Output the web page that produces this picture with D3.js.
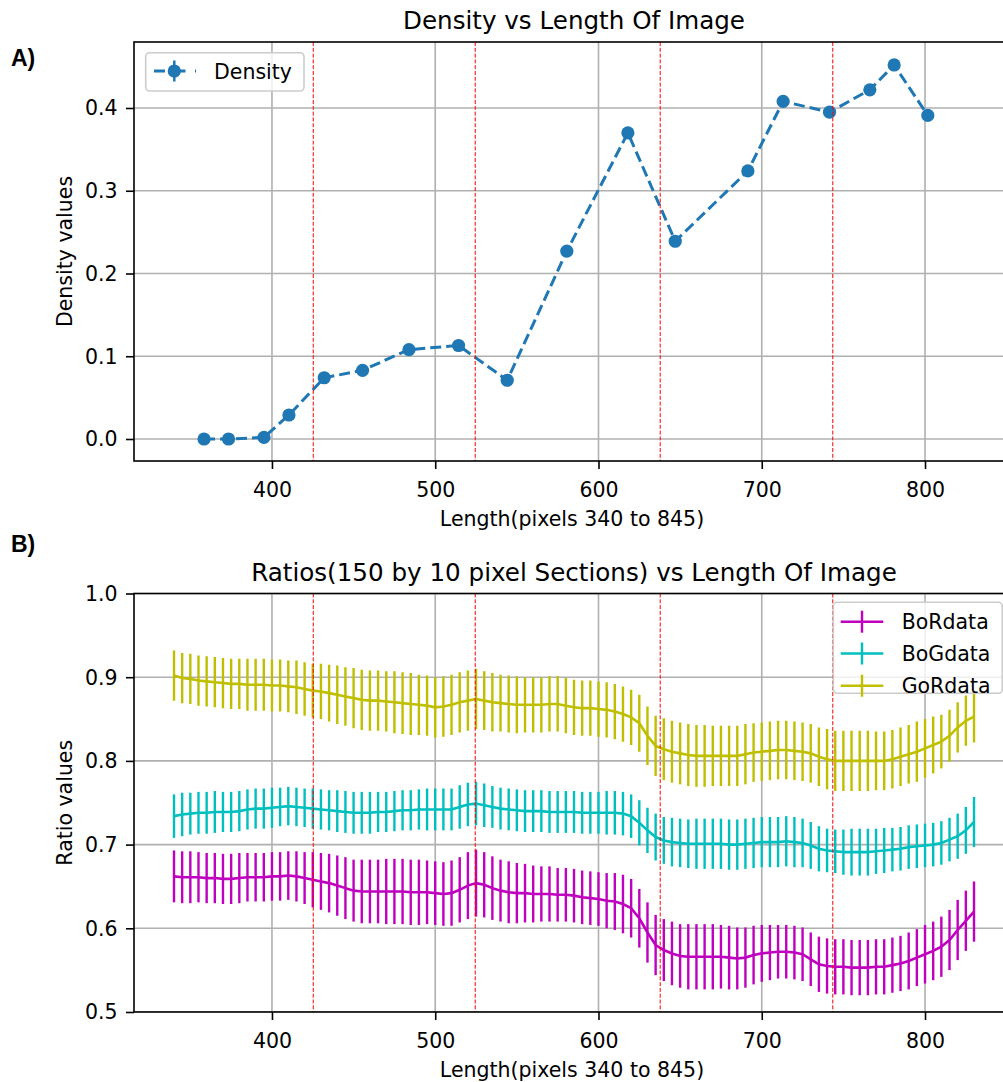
<!DOCTYPE html>
<html>
<head>
<meta charset="utf-8">
<script src="https://cdn.jsdelivr.net/npm/d3@7"></script>
<style>
  html, body { margin: 0; padding: 0; background: #fff; }
  svg text { font-family: "DejaVu Sans", sans-serif; fill: #000; }
</style>
</head>
<body>
<svg id="chart" width="1003" height="1082"></svg>
<script>
// ---------------- DATA ----------------
const densityX = [358.4, 373.4, 395.1, 410.4, 432.0, 455.5, 483.9, 514.3, 544.1, 580.6, 618.0, 647.0, 691.5, 713.1, 741.5, 766.2, 781.1, 801.7];
const densityY = [0.000, 0.000, 0.002, 0.029, 0.074, 0.083, 0.108, 0.113, 0.071, 0.227, 0.370, 0.239, 0.324, 0.408, 0.395, 0.422, 0.452, 0.391];

const sectionLines = [425.3, 524.5, 637.8, 743.5];

const ratioX = [340,345,350,355,360,365,370,375,380,385,390,395,400,405,410,415,420,
  425,430,435,440,445,450,455,460,465,470,475,480,485,490,495,500,505,510,515,520,
  525,530,535,540,545,550,555,560,565,570,575,580,585,590,595,600,605,610,615,620,
  625,630,635,640,645,650,655,660,665,670,675,680,685,690,695,700,705,710,715,720,
  725,730,735,740,745,750,755,760,765,770,775,780,785,790,795,800,805,810,815,820,825,830];

const borData = [.662,.661,.661,.661,.660,.660,.659,.659,.660,.661,.661,.661,.662,.662,.663,.662,.660,
  .658,.656,.654,.651,.648,.645,.644,.644,.644,.644,.644,.644,.643,.643,.643,.642,.641,.642,.646,.651,
  .654,.652,.648,.645,.643,.642,.642,.641,.641,.641,.640,.640,.639,.637,.636,.635,.633,.632,.629,.624,
  .612,.595,.580,.574,.570,.567,.566,.566,.566,.566,.566,.565,.564,.565,.568,.570,.571,.572,.572,.571,
  .569,.563,.557,.555,.554,.554,.553,.553,.553,.554,.554,.556,.558,.561,.565,.569,.573,.578,.586,.598,.609,.620];
const borErr = [.031,.031,.031,.030,.030,.030,.030,.030,.030,.029,.029,.029,.029,.029,.029,.030,.031,
  .033,.034,.035,.036,.037,.037,.038,.038,.038,.039,.039,.039,.039,.039,.038,.038,.038,.039,.039,.040,
  .040,.039,.038,.037,.037,.036,.035,.034,.033,.033,.032,.032,.032,.032,.032,.032,.033,.034,.035,.035,
  .035,.036,.036,.037,.038,.038,.039,.039,.039,.039,.038,.038,.037,.036,.035,.034,.033,.032,.032,.032,
  .032,.032,.033,.033,.033,.033,.033,.033,.033,.033,.033,.033,.033,.034,.034,.035,.035,.036,.036,.036,.036,.036];

const bogData = [.734,.736,.737,.738,.738,.739,.739,.739,.740,.742,.743,.743,.744,.745,.746,.745,.744,
  .743,.742,.741,.740,.739,.738,.738,.738,.739,.739,.740,.741,.741,.742,.742,.742,.742,.742,.745,.748,
  .749,.747,.745,.743,.742,.741,.740,.740,.740,.739,.739,.739,.739,.738,.738,.738,.738,.738,.737,.734,
  .726,.717,.709,.705,.703,.702,.701,.701,.701,.701,.701,.700,.700,.701,.702,.703,.703,.703,.704,.703,
  .702,.699,.695,.693,.692,.691,.691,.691,.691,.692,.693,.694,.695,.697,.698,.699,.700,.702,.706,.710,.717,.727];
const bogErr = [.026,.026,.025,.025,.025,.025,.024,.024,.024,.024,.024,.024,.024,.023,.023,.023,.023,
  .024,.024,.024,.025,.025,.025,.025,.025,.024,.024,.024,.024,.024,.024,.025,.025,.025,.025,.026,.026,
  .026,.026,.025,.025,.025,.025,.025,.025,.025,.025,.025,.025,.025,.025,.025,.025,.026,.026,.026,.026,
  .027,.027,.028,.028,.029,.029,.029,.030,.030,.030,.030,.030,.030,.030,.030,.030,.030,.030,.030,.030,
  .029,.028,.027,.026,.026,.027,.028,.028,.028,.027,.027,.026,.026,.026,.026,.026,.026,.026,.026,.027,.028,.030];

const gorData = [.902,.899,.898,.896,.895,.894,.893,.892,.892,.891,.891,.891,.890,.890,.889,.888,.886,
  .884,.883,.881,.879,.877,.875,.873,.872,.872,.871,.870,.869,.868,.867,.866,.864,.865,.867,.870,.872,
  .874,.872,.870,.869,.868,.867,.867,.867,.867,.868,.868,.866,.864,.863,.863,.862,.861,.859,.856,.852,
  .845,.830,.818,.814,.811,.809,.807,.806,.806,.806,.806,.806,.806,.808,.810,.811,.812,.813,.813,.812,
  .811,.809,.805,.802,.800,.800,.800,.800,.800,.800,.800,.802,.805,.808,.811,.815,.819,.823,.830,.840,.848,.853];
const gorErr = [.030,.030,.030,.030,.030,.030,.030,.030,.030,.031,.031,.031,.031,.031,.031,.032,.032,
  .032,.033,.034,.035,.035,.036,.036,.036,.036,.036,.037,.037,.037,.036,.036,.036,.036,.036,.036,.036,
  .036,.035,.035,.034,.034,.034,.033,.033,.033,.033,.033,.033,.033,.033,.033,.033,.033,.033,.033,.033,
  .034,.035,.036,.037,.037,.037,.037,.037,.037,.036,.036,.036,.036,.036,.035,.035,.035,.035,.035,.035,
  .035,.035,.035,.036,.036,.036,.036,.036,.036,.035,.035,.035,.035,.035,.036,.035,.034,.032,.031,.030,.030,.031];

const xTicks = [400, 500, 600, 700, 800];
const densityTicks = [0.0, 0.1, 0.2, 0.3, 0.4];
const ratioTicks = [0.5, 0.6, 0.7, 0.8, 0.9, 1.0];

const ratioSeries = [
  { name: "BoRdata", color: "#bf00bf", values: borData, errs: borErr },
  { name: "BoGdata", color: "#00bfbf", values: bogData, errs: bogErr },
  { name: "GoRdata", color: "#bfbf00", values: gorData, errs: gorErr }
];

// ---------------- LAYOUT ----------------
const svg = d3.select("#chart");
const FS = 20.5, TFS = 24.6;
const left = 134, right = 1014;
const top1 = 42, bot1 = 461;
const top2 = 593.5, bot2 = 1012;

const x = d3.scaleLinear().domain([315.5, 854.5]).range([left, right]);
const y1 = d3.scaleLinear().domain([-0.02659, 0.47976]).range([bot1, top1]);
const y2 = d3.scaleLinear().domain([0.5, 1.0]).range([bot2, top2]);

svg.append("rect").attr("width", 1003).attr("height", 1082).attr("fill", "#fff");

const defs = svg.append("defs");
defs.append("clipPath").attr("id", "clip1").append("rect")
  .attr("x", left).attr("y", top1).attr("width", right - left).attr("height", bot1 - top1);
defs.append("clipPath").attr("id", "clip2").append("rect")
  .attr("x", left).attr("y", top2).attr("width", right - left).attr("height", bot2 - top2);

function drawFrame(yScale, yTicks, top, bot, clipId) {
  const g = svg.append("g");
  const grid = g.append("g").attr("clip-path", `url(#${clipId})`);
  grid.selectAll("line.gx").data(xTicks).join("line")
    .attr("x1", d => x(d)).attr("x2", d => x(d)).attr("y1", top).attr("y2", bot)
    .attr("stroke", "#b0b0b0").attr("stroke-width", 1.6);
  grid.selectAll("line.gy").data(yTicks).join("line")
    .attr("x1", left).attr("x2", right).attr("y1", d => yScale(d)).attr("y2", d => yScale(d))
    .attr("stroke", "#b0b0b0").attr("stroke-width", 1.6);
  return g;
}

function drawAxes(yScale, yTicks, top, bot) {
  const ax = svg.append("g").attr("transform", `translate(0,${bot})`)
    .call(d3.axisBottom(x).tickValues(xTicks).tickSize(8).tickSizeOuter(0).tickFormat(d3.format("d")));
  ax.select(".domain").remove();
  ax.selectAll(".tick line").attr("stroke", "#000").attr("stroke-width", 1.6);
  ax.selectAll(".tick text").attr("y", 36).attr("dy", null)
    .style("font-size", FS + "px").attr("fill", "#000");

  const ay = svg.append("g").attr("transform", `translate(${left},0)`)
    .call(d3.axisLeft(yScale).tickValues(yTicks).tickSize(8).tickPadding(8.5).tickSizeOuter(0).tickFormat(d3.format(".1f")));
  ay.select(".domain").remove();
  ay.selectAll(".tick line").attr("stroke", "#000").attr("stroke-width", 1.6);
  ay.selectAll(".tick text").attr("dy", "0.34em")
    .style("font-size", FS + "px").attr("fill", "#000");

  svg.append("rect").attr("x", left).attr("y", top).attr("width", right - left).attr("height", bot - top)
    .attr("fill", "none").attr("stroke", "#000").attr("stroke-width", 1.6);
}

function drawSectionLines(top, bot, clipId) {
  svg.append("g").attr("clip-path", `url(#${clipId})`)
    .selectAll("line").data(sectionLines).join("line")
    .attr("x1", d => x(d)).attr("x2", d => x(d)).attr("y1", top).attr("y2", bot)
    .attr("stroke", "#ff0000").attr("stroke-width", 1).attr("stroke-dasharray", "4,1.8");
}

// ---------------- PANEL A ----------------
drawFrame(y1, densityTicks, top1, bot1, "clip1");
const pA = svg.append("g").attr("clip-path", "url(#clip1)");
const densPts = densityX.map((d, i) => [d, densityY[i]]);
pA.append("path").datum(densPts)
  .attr("d", d3.line().x(d => x(d[0])).y(d => y1(d[1])))
  .attr("fill", "none").attr("stroke", "#1f77b4").attr("stroke-width", 3)
  .attr("stroke-dasharray", "11,5");
pA.selectAll("circle").data(densPts).join("circle")
  .attr("cx", d => x(d[0])).attr("cy", d => y1(d[1])).attr("r", 6.6)
  .attr("fill", "#1f77b4");
drawSectionLines(top1, bot1, "clip1");
drawAxes(y1, densityTicks, top1, bot1);

// legend A
const lgA = svg.append("g");
lgA.append("rect").attr("x", 145.7).attr("y", 52.7).attr("width", 158.3).attr("height", 38.3)
  .attr("rx", 4).attr("fill", "#fff").attr("fill-opacity", 0.8).attr("stroke", "#cccccc").attr("stroke-width", 1.6);
lgA.append("line").attr("x1", 154).attr("x2", 196).attr("y1", 71).attr("y2", 71)
  .attr("stroke", "#1f77b4").attr("stroke-width", 3).attr("stroke-dasharray", "11,9.5");
lgA.append("line").attr("x1", 174.3).attr("x2", 174.3).attr("y1", 60.5).attr("y2", 81.5)
  .attr("stroke", "#1f77b4").attr("stroke-width", 2.5);
lgA.append("circle").attr("cx", 174.3).attr("cy", 71).attr("r", 6.6).attr("fill", "#1f77b4");
lgA.append("text").attr("x", 214).attr("y", 78.5).style("font-size", FS + "px").text("Density");

// ---------------- PANEL B ----------------
drawFrame(y2, ratioTicks, top2, bot2, "clip2");
const pB = svg.append("g").attr("clip-path", "url(#clip2)");
ratioSeries.forEach(s => {
  const g = pB.append("g");
  g.selectAll("line").data(ratioX).join("line")
    .attr("x1", d => x(d)).attr("x2", d => x(d))
    .attr("y1", (d, i) => y2(s.values[i] - s.errs[i]))
    .attr("y2", (d, i) => y2(s.values[i] + s.errs[i]))
    .attr("stroke", s.color).attr("stroke-width", 2.4);
  g.append("path").datum(ratioX.map((d, i) => [d, s.values[i]]))
    .attr("d", d3.line().x(d => x(d[0])).y(d => y2(d[1])))
    .attr("fill", "none").attr("stroke", s.color).attr("stroke-width", 2.6);
});
drawSectionLines(top2, bot2, "clip2");
drawAxes(y2, ratioTicks, top2, bot2);

// legend B
const lgB = svg.append("g");
lgB.append("rect").attr("x", 833.3).attr("y", 602.3).attr("width", 169).attr("height", 91)
  .attr("rx", 4).attr("fill", "#fff").attr("fill-opacity", 0.8).attr("stroke", "#cccccc").attr("stroke-width", 1.6);
const legYs = [621.7, 653.5, 685.7];
ratioSeries.forEach((s, i) => {
  const yy = legYs[i];
  lgB.append("line").attr("x1", 840.7).attr("x2", 883.3).attr("y1", yy).attr("y2", yy)
    .attr("stroke", s.color).attr("stroke-width", 2.6);
  lgB.append("line").attr("x1", 862).attr("x2", 862).attr("y1", yy - 11).attr("y2", yy + 11)
    .attr("stroke", s.color).attr("stroke-width", 2.4);
  lgB.append("text").attr("x", 901.7).attr("y", yy + 7.5).style("font-size", FS + "px").text(s.name);
});

// ---------------- TEXT ----------------
const cx = (left + right) / 2;
svg.append("text").attr("x", cx).attr("y", 29).attr("text-anchor", "middle")
  .style("font-size", TFS + "px").text("Density vs Length Of Image");
svg.append("text").attr("x", cx).attr("y", 580.5).attr("text-anchor", "middle")
  .style("font-size", TFS + "px").text("Ratios(150 by 10 pixel Sections) vs Length Of Image");

svg.append("text").attr("x", cx - 2).attr("y", 525.5).attr("text-anchor", "middle")
  .style("font-size", FS + "px").text("Length(pixels 340 to 845)");
svg.append("text").attr("x", cx - 2).attr("y", 1076.5).attr("text-anchor", "middle")
  .style("font-size", FS + "px").text("Length(pixels 340 to 845)");

svg.append("text").attr("transform", `translate(72,${(top1 + bot1) / 2}) rotate(-90)`)
  .attr("text-anchor", "middle").style("font-size", FS + "px").text("Density values");
svg.append("text").attr("transform", `translate(72,${(top2 + bot2) / 2}) rotate(-90)`)
  .attr("text-anchor", "middle").style("font-size", FS + "px").text("Ratio values");

svg.append("text").attr("x", 11).attr("y", 66).style("font-family", "'Liberation Sans', Arial, sans-serif")
  .style("font-size", "23px").style("font-weight", "bold").text("A)");
svg.append("text").attr("x", 11).attr("y", 552).style("font-family", "'Liberation Sans', Arial, sans-serif")
  .style("font-size", "23px").style("font-weight", "bold").text("B)");
</script>
</body>
</html>
